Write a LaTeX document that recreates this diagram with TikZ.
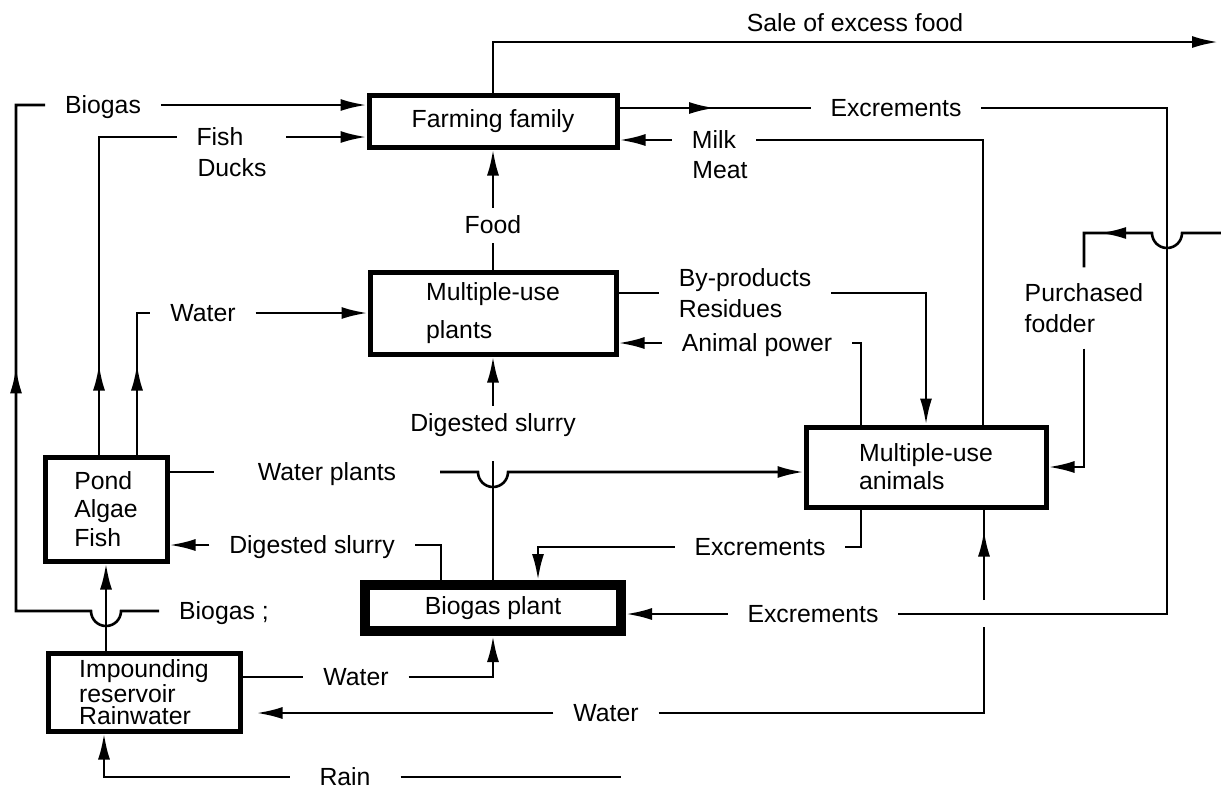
\documentclass[tikz,border=0pt]{standalone}
\usepackage{fontspec}
\setmainfont{Liberation Sans}
\usetikzlibrary{arrows.meta,decorations.markings}

\begin{document}
\begin{tikzpicture}[x=0.5pt,y=-0.5pt,line width=1.3pt,font=\fontsize{12.4}{15.5}\selectfont,
	box/.style={draw,line width=2.5pt,align=left,inner sep=0pt},
	lbl/.style={inner sep=0pt,outer xsep=10pt,outer ysep=4.5pt,text height=8.5pt,text depth=0pt},
	lbls/.style={inner sep=0pt,outer xsep=10pt,outer ysep=4pt,align=left},
	arr/.style={-{Latex[length=13pt,width=6pt]}},
	tipat/.style={postaction={decorate},decoration={markings,mark=at position #1 with {\arrow{Latex[length=13pt,width=6pt]}}}}]
	\useasboundingbox (0,0) rectangle (1221,788);
	\node [box,minimum width=124pt,minimum height=26pt] (family) at (493,121) {Farming family};
	\node [box,minimum width=123pt,minimum height=41pt,font=\fontsize{12.4}{19}\selectfont] (plants) at (493,313) {Multiple-use\\plants};
	\node [box,minimum width=120pt,minimum height=40pt,font=\fontsize{12.4}{14}\selectfont] (animals) at (926,467) {Multiple-use\\animals};
	\node [box,minimum width=61pt,minimum height=52pt,font=\fontsize{12.4}{14.3}\selectfont] (pond) at (106,509) {Pond\\Algae\\Fish};
	\node [box,minimum width=96pt,minimum height=39pt,font=\fontsize{12.4}{11}\selectfont] (reservoir) at (144,692) {Impounding\\reservoir\\Rainwater};
	\node [box,line width=5pt,minimum width=128pt,minimum height=23pt] (biogas) at (493,608) {Biogas plant};
	\node [lbl] (sale) at (855,23) {Sale of excess food};
	\node [lbl] (gastop) at (103,105) {Biogas};
	\node [lbl] (fish) at (220,137) {Fish};
	\node [lbl] (ducks) at (232,168) {Ducks};
	\node [lbl] (exc1) at (896,108) {Excrements};
	\node [lbl] (milk) at (714,140) {Milk};
	\node [lbl] (meat) at (720,170) {Meat};
	\node [lbl] (food) at (493,225) {Food};
	\node [lbl] (water1) at (203,313) {Water};
	\node [lbls] (byp) at (745,293) {By-products\\Residues};
	\node [lbl] (apower) at (757,343) {Animal power};
	\node [lbls,outer ysep=8pt] (fodder) at (1084,308) {Purchased\\fodder};
	\node [lbl] (dig1) at (493,423) {Digested slurry};
	\node [lbl,outer xsep=22pt] (wplants) at (327,472) {Water plants};
	\node [lbl] (dig2) at (312,545) {Digested slurry};
	\node [lbl] (exc2) at (760,547) {Excrements};
	\node [lbl] (gasbot) at (224,611) {Biogas ;};
	\node [lbl] (exc3) at (813,614) {Excrements};
	\node [lbl] (water2) at (356,677) {Water};
	\node [lbl] (water3) at (606,713) {Water};
	\node [lbl,outer xsep=15pt] (rain) at (345,777) {Rain};
	\coordinate (market) at (1218,42);
	\coordinate (fodderin) at (1221,233);
	\coordinate (drain) at (1167,108);
	\coordinate (rainend) at (621,777);
	\draw [arr] (family.north) |- (market);
	\draw [tipat=-145.75pt] (gasbot.west) -- (121,611) arc [start angle=0,end angle=-180,radius=7.5pt] -- (16,611) |- (gastop.west);
	\draw [arr] (gastop.east) -- (family.west |- gastop);
	\draw [tipat=45pt] ([xshift=-3.5pt]pond.north) |- (fish.west);
	\draw [arr] (ducks.east |- fish) -- (family.west |- fish);
	\draw [tipat=45pt] ([xshift=15.5pt]pond.north) |- (water1.west);
	\draw [arr] (water1.east) -- (plants.west |- water1);
	\draw [arr] (food.north) -- (family.south);
	\draw (plants.north) -- (food.south);
	\draw [arr] (dig1.north) -- (plants.south);
	\draw [shorten >=10pt] (biogas.north) -- (dig1.south);
	\draw (pond.east |- wplants) -- (wplants.west);
	\draw [arr] (wplants.east) -- (478,472) arc [start angle=180,end angle=360,radius=7.5pt] -- (animals.west |- wplants);
	\draw ([xshift=-26pt]biogas.north) |- (dig2.east);
	\draw [arr] (dig2.west) -- (pond.east |- dig2);
	\draw ([xshift=-32.5pt]animals.south) |- (exc2.east);
	\draw [arr] (exc2.west) -| ([xshift=22.5pt]biogas.north);
	\draw [tipat=0.5] (family.east |- exc1) -- (exc1.west);
	\draw (exc1.east) -- (drain) |- (exc3.east);
	\draw [arr] (exc3.west) -- (biogas.east |- exc3);
	\draw [tipat=69pt] (fodderin) -- (1182,233) arc [start angle=0,end angle=-180,radius=7.5pt] -| (fodder.north);
	\draw [arr] (fodder.south) |- (animals.east);
	\draw [arr] (milk.west) -- (family.east |- milk);
	\draw ([xshift=28.5pt]animals.north) |- (milk.east);
	\draw (plants.east |- byp) -- (byp.west);
	\draw [arr] (byp.east) -| (animals.north);
	\draw [arr] (apower.west) -- (plants.east |- apower);
	\draw ([xshift=-32.5pt]animals.north) |- (apower.east);
	\draw [arr,shorten >=7pt] (water3.west) -- (reservoir.east |- water3);
	\draw [tipat=-10.5pt] (water3.east) -| (984,627) (984,600) -- ([xshift=29pt]animals.south);
	\draw (reservoir.east |- water2) -- (water2.west);
	\draw [arr] (water2.east) -| (biogas.south);
	\draw [arr] (rain.west) -| ([xshift=-20pt]reservoir.south);
	\draw (rain.east) -- (rainend);
	\draw [arr] (reservoir.north -| pond.south) -- (pond.south);
\end{tikzpicture}
\end{document}
